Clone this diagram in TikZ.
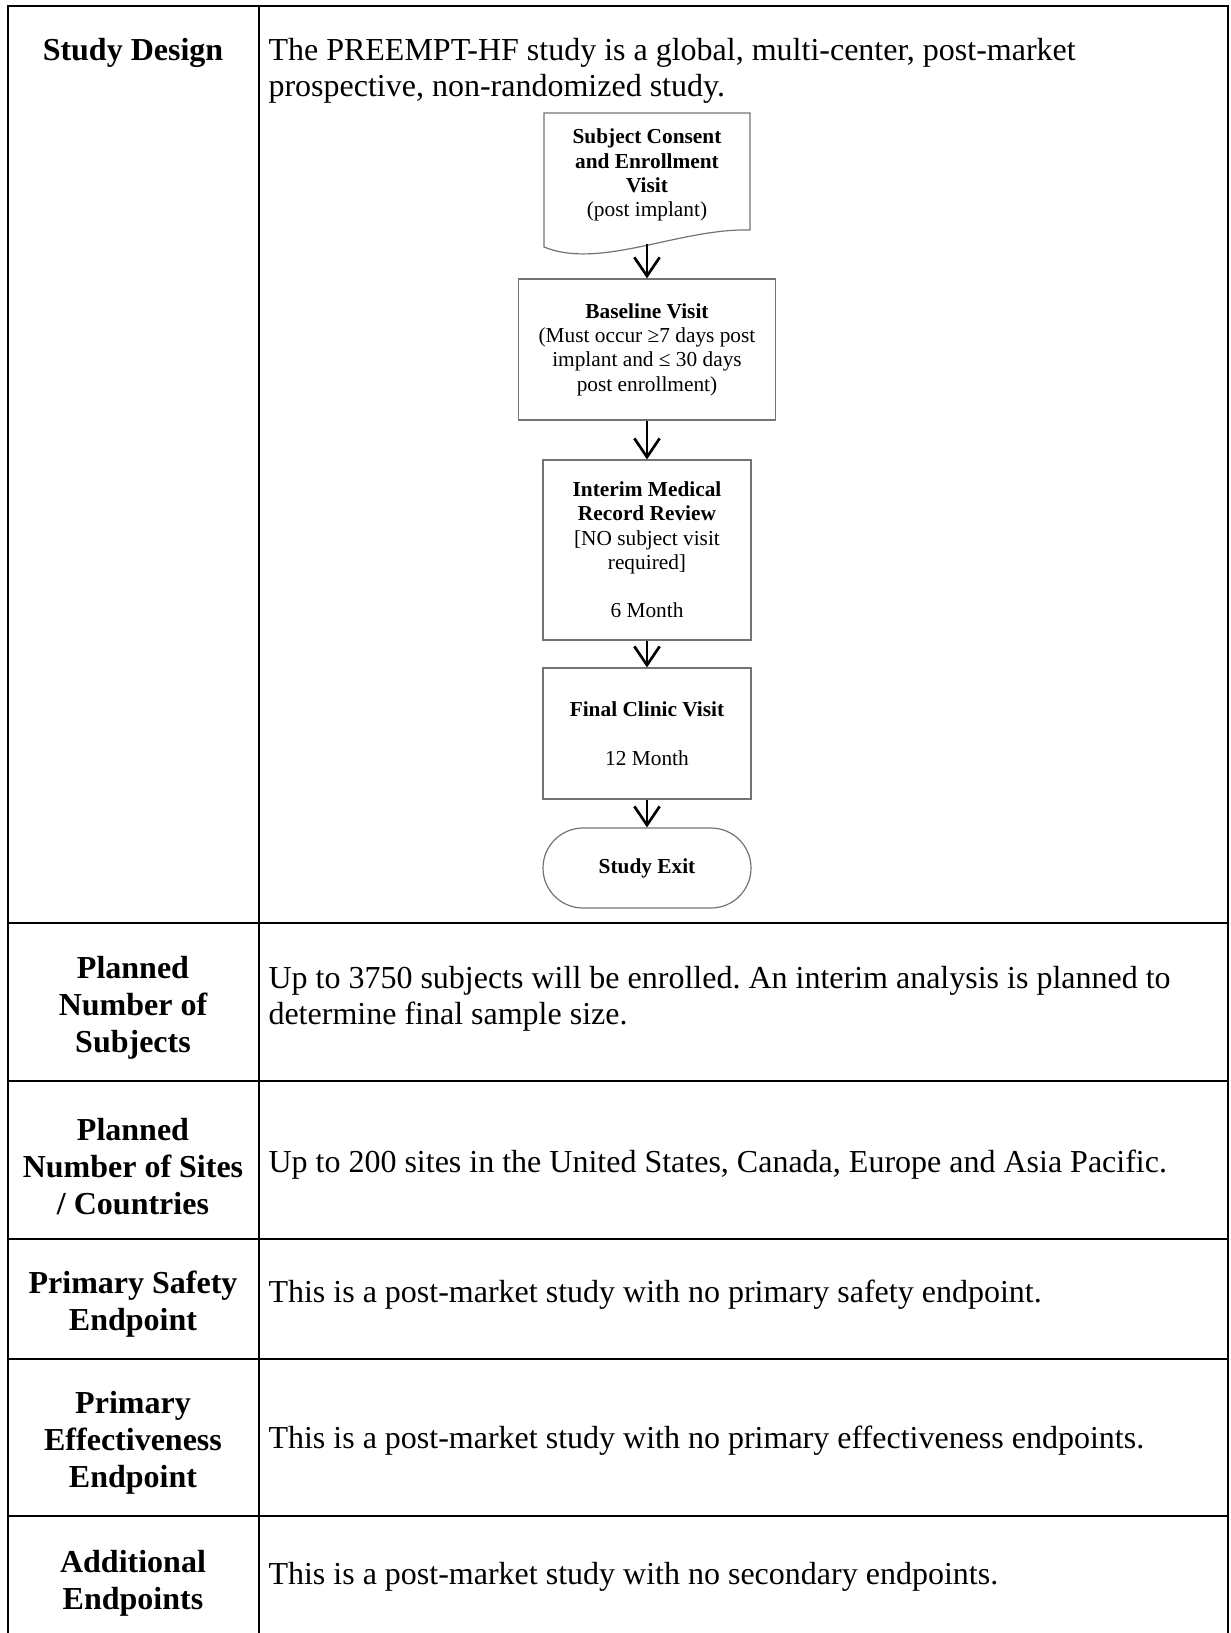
\documentclass[tikz,border=0pt]{standalone}
\usepackage{fontspec}
\setmainfont{Liberation Serif}
\usetikzlibrary{arrows.meta}
\frenchspacing

\begin{document}
\begin{tikzpicture}[x=0.375pt,y=-0.375pt,
  grid/.style={line width=1pt},
  head/.style={font=\fontsize{12}{13.9}\selectfont\bfseries, align=center, inner sep=0pt},
  body/.style={font=\fontsize{12}{13.7}\selectfont, align=left, anchor=west, inner sep=0pt},
  small/.style={font=\fontsize{8}{9.1}\selectfont, align=center, inner sep=0pt},
  box/.style={small, draw=black!55, line width=0.45pt},
  flow/.style={-{Straight Barb[length=7pt,width=9.5pt]}, line width=1pt}
]
\useasboundingbox (0,0) rectangle (1230,1633);
% table lines
\draw[grid] (8,1633) -- (8,6) -- (1228,6) -- (1228,1633);
\draw[grid] (259,6) -- (259,1633);
\foreach \y in {923,1081,1239,1359,1516}
  \draw[grid] (8,\y) -- (1228,\y);

% left column
\node[head] (hdesign) at (133,53) {Study Design};
\node[head] (hsubjects) at (133,1008) {Planned\\Number of\\Subjects};
\node[head] (hsites) at (133,1167) {Planned\\Number of Sites\\/ Countries};
\node[head] (hsafety) at (133,1304) {Primary Safety\\Endpoint};
\node[head] (heffect) at (133,1443) {Primary\\Effectiveness\\Endpoint};
\node[head] (hadd) at (133,1583) {Additional\\Endpoints};

% right column
\node[body] (tdesign) at (268,71) {The PREEMPT-HF study is a global, multi-center, post-market\\prospective, non-randomized study.};
\node[body] (tsubjects) at (268,999) {Up to 3750 subjects will be enrolled. An interim analysis is planned to\\determine final sample size.};
\node[body] (tsites) at (268,1165) {Up to 200 sites in the United States, Canada, Europe and Asia Pacific.};
\node[body] (tsafety) at (268,1295) {This is a post-market study with no primary safety endpoint.};
\node[body] (teffect) at (268,1441) {This is a post-market study with no primary effectiveness endpoints.};
\node[body] (tadd) at (268,1577) {This is a post-market study with no secondary endpoints.};

% flow chart
\draw[black!55, line width=0.45pt] (544,247) -- (544,113) -- (750,113) -- (750,230)
  .. controls (680,228) and (600,270) .. (544,247) -- cycle;
\node[small] (consent) at (647,175) {\textbf{Subject Consent}\\\textbf{and Enrollment}\\\textbf{Visit}\\(post implant)};
\coordinate (wave) at (647,244);
\node[box, minimum width=96.4pt, minimum height=52.9pt] (baseline) at (647,349.5)
  {\textbf{Baseline Visit}\\(Must occur ≥7 days post\\implant and ≤ 30 days\\post enrollment)};
\node[box, minimum width=78pt, minimum height=67.5pt] (interim) at (647,550)
  {\textbf{Interim Medical}\\\textbf{Record Review}\\{[NO subject visit}\\required]\\[9.1pt]6 Month};
\node[box, minimum width=78pt, minimum height=49.1pt] (final) at (647,733.5)
  {\textbf{Final Clinic Visit}\\[9.1pt]12 Month};
\node[box, rounded corners=15pt, minimum width=78pt, minimum height=30pt] (exit) at (647,868)
  {\textbf{Study Exit}};

\draw[flow] (wave) -- (baseline.north);
\draw[flow] (baseline) -- (interim);
\draw[flow] (interim) -- (final);
\draw[flow] (final) -- (exit);
\end{tikzpicture}
\end{document}
